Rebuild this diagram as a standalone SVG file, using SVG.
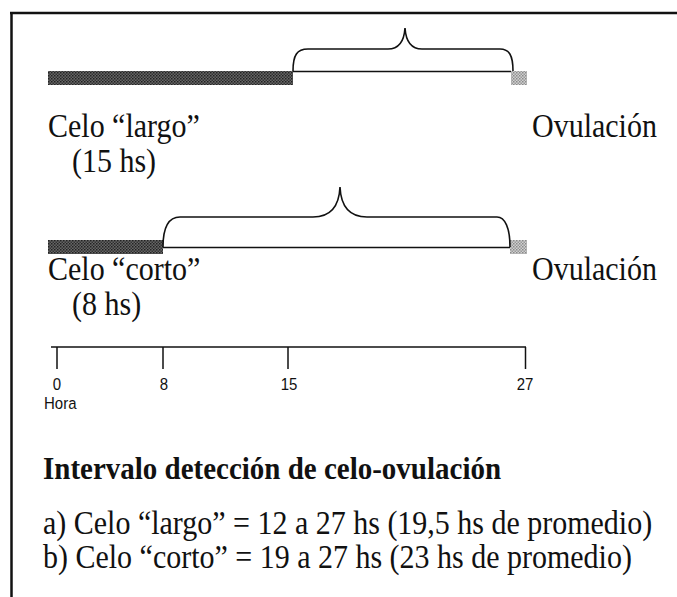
<svg xmlns="http://www.w3.org/2000/svg" width="677" height="597" viewBox="0 0 677 597">
<style>
.serif{font-family:"Liberation Serif","Times New Roman",serif;font-size:30px;fill:#111}
.bold{font-family:"Liberation Serif","Times New Roman",serif;font-size:29px;font-weight:bold;fill:#111}
.sans{font-family:"Liberation Sans",Arial,sans-serif;font-size:15px;fill:#111}
.ln{fill:none;stroke:#111;stroke-width:1.5}
.brace{fill:none;stroke:#111;stroke-width:1.6}
</style>
<defs>
<pattern id="dark" width="3" height="3" patternUnits="userSpaceOnUse">
<rect width="3" height="3" fill="#666"/>
<rect width="1.5" height="1.5" fill="#222"/>
<rect x="1.5" y="1.5" width="1.5" height="1.5" fill="#333"/>
</pattern>
<pattern id="light" width="3" height="3" patternUnits="userSpaceOnUse">
<rect width="3" height="3" fill="#d0d0d0"/>
<rect width="1.5" height="1.5" fill="#8a8a8a"/>
<rect x="1.5" y="1.5" width="1.5" height="1.5" fill="#999"/>
</pattern>
</defs>
<g id="frame">
<line x1="10" y1="13" x2="677" y2="13" stroke="#111" stroke-width="2.5"/>
<line x1="11.5" y1="12" x2="11.5" y2="597" stroke="#111" stroke-width="2.5"/>
</g>
<g id="largo">
<rect x="48" y="71" width="245" height="14" fill="url(#dark)"/>
<rect x="511" y="71" width="16" height="14" fill="url(#light)"/>
<text class="serif" transform="translate(48,137) scale(1,1.1)">Celo “largo”</text>
<text class="serif" transform="translate(72,172) scale(1,1.1)">(15 hs)</text>
<text class="serif" transform="translate(532,137) scale(1,1.1)">Ovulación</text>
</g>
<g id="corto">
<rect x="48" y="240" width="115" height="14" fill="url(#dark)"/>
<rect x="510" y="240" width="17" height="14" fill="url(#light)"/>
<text class="serif" transform="translate(48,280) scale(1,1.1)">Celo “corto”</text>
<text class="serif" transform="translate(72,315) scale(1,1.1)">(8 hs)</text>
<text class="serif" transform="translate(532,280) scale(1,1.1)">Ovulación</text>
</g>
<g id="connectors">
<line class="ln" x1="293" y1="71.5" x2="511" y2="71.5"/>
<path class="brace" d="M293,71 C293,55 297,49 308,49 L388,49 C398,49 404,43 405,28 C406,43 412,49 422,49 L500,49 C509,49 513,55 513,71"/>
<line class="ln" x1="163" y1="247.5" x2="510" y2="247.5"/>
<path class="brace" d="M163,247 C163,228 168,217 180,217 L313,217 C328,217 339,209 340,187 C341,209 352,217 367,217 L497,217 C505,217 510,228 510,247"/>
</g>
<g id="axis">
<line class="ln" x1="51" y1="347" x2="526" y2="347"/>
<line class="ln" x1="57" y1="347" x2="57" y2="369"/>
<line class="ln" x1="163" y1="347" x2="163" y2="369"/>
<line class="ln" x1="288" y1="347" x2="288" y2="369"/>
<line class="ln" x1="525.5" y1="347" x2="525.5" y2="369"/>
<text class="sans" transform="translate(57,390) scale(1,1.1)" text-anchor="middle">0</text>
<text class="sans" transform="translate(164,390) scale(1,1.1)" text-anchor="middle">8</text>
<text class="sans" transform="translate(289,390) scale(1,1.1)" text-anchor="middle">15</text>
<text class="sans" transform="translate(525,390) scale(1,1.1)" text-anchor="middle">27</text>
<text class="sans" transform="translate(44,409) scale(1,1.1)">Hora</text>
</g>
<g id="summary">
<text class="bold" transform="translate(43,479) scale(1,1.1)">Intervalo detección de celo-ovulación</text>
<text class="serif" transform="translate(43,534) scale(1,1.1)">a) Celo “largo” = 12 a 27 hs (19,5 hs de promedio)</text>
<text class="serif" transform="translate(43,568) scale(1,1.1)">b) Celo “corto” = 19 a 27 hs (23 hs de promedio)</text>
</g>
</svg>
